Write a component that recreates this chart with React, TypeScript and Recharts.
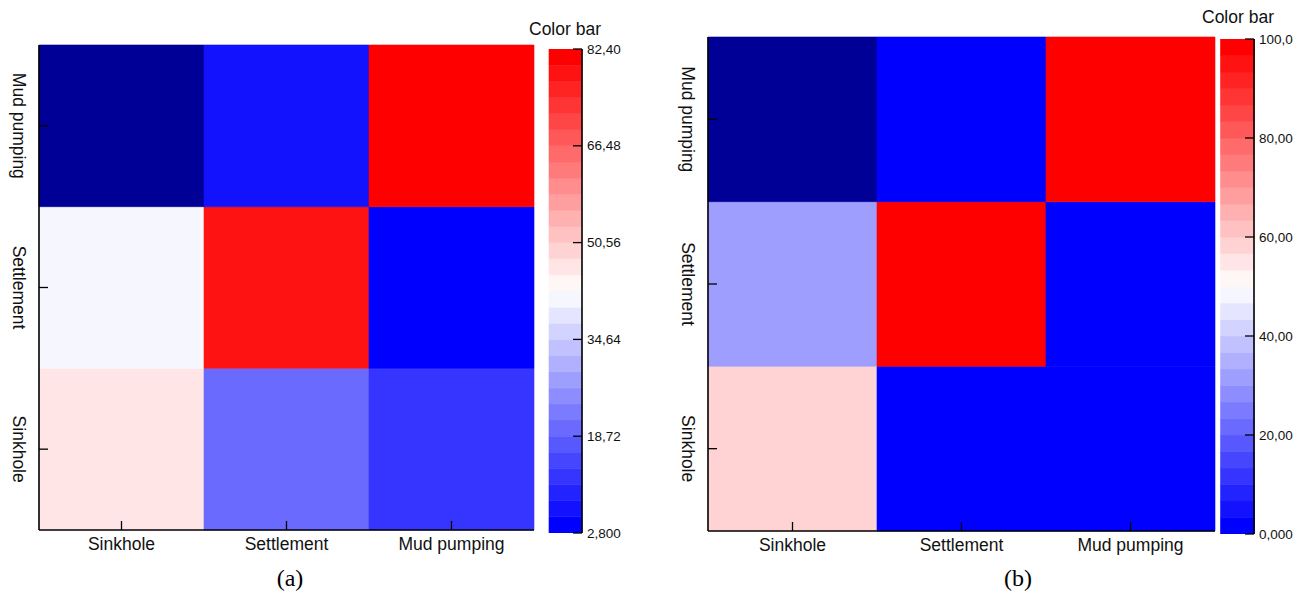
import { BarChart, Bar, XAxis, YAxis, Cell } from "recharts";

const FONT = "'Liberation Sans', Arial, sans-serif";
const SERIF = "'Liberation Serif', 'Times New Roman', serif";

// category order: columns left→right, rows bottom→top
const columns = ["Sinkhole", "Settlement", "Mud pumping"];
const rowLabels = ["Sinkhole", "Settlement", "Mud pumping"];
const rowKeys = ["sinkhole", "settlement", "mudPumping"];

// panel (a)
const sinkholeA = [46.5, 20.0, 12.0];
const settlementA = [41.2, 78.4, 3.9];
const mudPumpingA: (number | null)[] = [null, 6.7, 82.4];
const barTicksA = [2.8, 18.72, 34.64, 50.56, 66.48, 82.4];

// panel (b)
const sinkholeB = [58.3, 0, 0];
const settlementB = [31.7, 100, 0];
const mudPumpingB: (number | null)[] = [null, 0, 100];
const barTicksB = [0, 20, 40, 60, 80, 100];

const LEVELS = 30;
const EMPTY = "#000096";

function levelColor(k: number) {
  const t = k / (LEVELS - 1);
  if (t < 0.5) {
    const c = Math.round(510 * t);
    return `rgb(${c},${c},255)`;
  }
  const c = Math.round(510 * (1 - t));
  return `rgb(255,${c},${c})`;
}

function valueColor(v: number | null, lo: number, hi: number) {
  if (v == null) return EMPTY;
  const k = Math.floor(((v - lo) / (hi - lo)) * LEVELS);
  return levelColor(Math.max(0, Math.min(LEVELS - 1, k)));
}

const fmt = (v: number) => v.toPrecision(4).replace(".", ",");

const frame = { stroke: "#000", strokeWidth: 1.6 };

function Heatmap({ rows, lo, hi, left, top, margin }: any) {
  const data = columns.map((name) => ({ name, sinkhole: 1, settlement: 1, mudPumping: 1 }));

  const YTick = ({ x, y, payload }: any) => (
    <g>
      <line x1={x} x2={x + 9} y1={y} y2={y} stroke="#000" strokeWidth={1.3} />
      <text
        transform={`translate(${x - 20},${y}) rotate(90)`}
        textAnchor="middle"
        dominantBaseline="central"
        fontSize={17.5}
        fontFamily={FONT}
        fill="#111"
      >
        {rowLabels[Math.floor(payload.value)]}
      </text>
    </g>
  );

  const XTick = ({ x, y, payload }: any) => (
    <g>
      <line x1={x} x2={x} y1={y} y2={y - 9} stroke="#000" strokeWidth={1.3} />
      <text x={x} y={y + 20} textAnchor="middle" fontSize={17.5} fontFamily={FONT} fill="#111">
        {payload.value}
      </text>
    </g>
  );

  return (
    <div style={{ position: "absolute", left, top }}>
      <BarChart width={560} height={600} data={data} margin={margin} barCategoryGap={0} barGap={0}>
        <XAxis dataKey="name" height={30} tickSize={0} tickMargin={0} tickLine={false} axisLine={frame} tick={<XTick />} interval={0} />
        <XAxis xAxisId="top" dataKey="name" orientation="top" height={0} tick={false} tickLine={false} axisLine={frame} />
        <YAxis type="number" domain={[0, 3]} ticks={[0.5, 1.5, 2.5]} width={30} tickSize={0} tickMargin={0} tickLine={false} axisLine={frame} tick={<YTick />} />
        <YAxis yAxisId="right" orientation="right" type="number" domain={[0, 3]} width={0} tick={false} tickLine={false} axisLine={frame} />
        {rowKeys.map((key, r) => (
          <Bar key={key} dataKey={key} stackId="m" isAnimationActive={false}>
            {columns.map((c, i) => {
              const fill = valueColor(rows[r][i], lo, hi);
              return <Cell key={c} fill={fill} stroke={fill} strokeWidth={0.6} />;
            })}
          </Bar>
        ))}
      </BarChart>
    </div>
  );
}

function ColorBar({ lo, hi, ticks, left, top, margin }: any) {
  const step = (hi - lo) / LEVELS;
  const levels = Array.from({ length: LEVELS }, (_, k) => k);
  const row: any = { name: "bar", base: lo };
  levels.forEach((k) => (row[`l${k}`] = step));

  const Tick = ({ x, y, payload }: any) => (
    <g>
      <line x1={x - 9} x2={x} y1={y} y2={y} stroke="#000" strokeWidth={1.3} />
      <text x={x + 5} y={y} dominantBaseline="central" fontSize={13.5} fontFamily={FONT} fill="#111">
        {fmt(payload.value)}
      </text>
    </g>
  );

  return (
    <div style={{ position: "absolute", left, top }}>
      <BarChart width={110} height={600} data={[row]} margin={margin} barCategoryGap={0}>
        <XAxis dataKey="name" height={0} tick={false} tickLine={false} axisLine={frame} />
        <XAxis xAxisId="top" dataKey="name" orientation="top" height={0} tick={false} tickLine={false} axisLine={frame} />
        <YAxis orientation="right" type="number" domain={[lo, hi]} ticks={ticks} allowDataOverflow width={60} tickSize={0} tickMargin={0} tickLine={false} axisLine={frame} tick={<Tick />} interval={0} />
        <YAxis yAxisId="left" orientation="left" type="number" domain={[lo, hi]} width={0} tick={false} tickLine={false} axisLine={frame} />
        <Bar dataKey="base" stackId="c" fill="none" isAnimationActive={false} />
        {levels.map((k) => (
          <Bar key={k} dataKey={`l${k}`} stackId="c" fill={levelColor(k)} stroke={levelColor(k)} strokeWidth={0.6} isAnimationActive={false} />
        ))}
      </BarChart>
    </div>
  );
}

export default function App() {
  return (
    <div style={{ position: "absolute", left: 0, top: 0, width: 1312, height: 609, background: "#fff", overflow: "hidden" }}>
      <Heatmap
        rows={[sinkholeA, settlementA, mudPumpingA]}
        lo={2.8}
        hi={82.4}
        left={0}
        top={0}
        margin={{ top: 45, right: 26, bottom: 40, left: 9 }}
      />
      <ColorBar lo={2.8} hi={82.4} ticks={barTicksA} left={540} top={0} margin={{ top: 49, right: 8, bottom: 67, left: 9 }} />
      <Heatmap
        rows={[sinkholeB, settlementB, mudPumpingB]}
        lo={0}
        hi={100}
        left={670}
        top={0}
        margin={{ top: 37, right: 15, bottom: 39, left: 8 }}
      />
      <ColorBar lo={0} hi={100} ticks={barTicksB} left={1212} top={0} margin={{ top: 39, right: 8, bottom: 66, left: 8.5 }} />
      <svg width={1312} height={609} style={{ position: "absolute", left: 0, top: 0, pointerEvents: "none" }}>
        <text x={529} y={35} fontSize={17.5} fontFamily={FONT} fill="#111">Color bar</text>
        <text x={1202} y={23} fontSize={17.5} fontFamily={FONT} fill="#111">Color bar</text>
        <text x={290} y={578} textAnchor="middle" dominantBaseline="central" fontSize={24} fontFamily={SERIF} fill="#000">(a)</text>
        <text x={1018} y={578} textAnchor="middle" dominantBaseline="central" fontSize={24} fontFamily={SERIF} fill="#000">(b)</text>
      </svg>
    </div>
  );
}
